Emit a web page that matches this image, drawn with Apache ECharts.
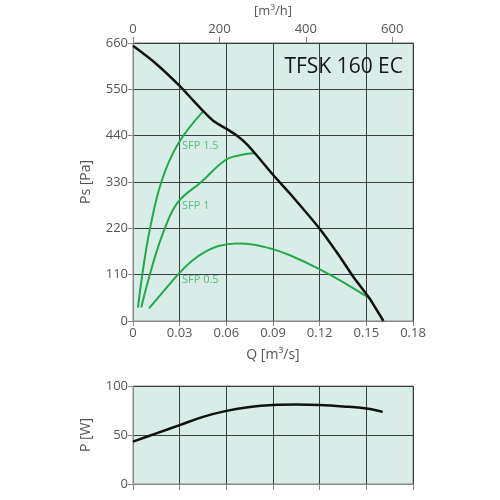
<!DOCTYPE html>
<html lang="en">
<head>
    <meta charset="UTF-8">
    <title>TFSK 160 EC</title>
    <script src="https://cdn.jsdelivr.net/npm/echarts@6/dist/echarts.min.js"></script>
    <style>
        html, body { margin: 0; padding: 0; background: #fff; }
    </style>
</head>
<body>
<div id="main" style="width:500px; height:500px"></div>

<script type="text/javascript">
    // fan curve: Q [m3/s], Ps [Pa]
    var fanCurve = [[0, 653], [0.015, 610], [0.030, 558], [0.0388, 523], [0.0452, 498],
        [0.0527, 472], [0.0602, 456], [0.0667, 440], [0.0731, 420], [0.0784, 398],
        [0.090, 347], [0.101, 302], [0.120, 219], [0.1331, 152], [0.1416, 105],
        [0.152, 54], [0.161, 0]];
    // SFP lines
    var sfp15 = [[0.0032, 32], [0.0064, 121], [0.0107, 215], [0.0182, 330],
        [0.0289, 420], [0.0452, 498]];
    var sfp1 = [[0.0053, 32], [0.0129, 137], [0.0204, 219], [0.0289, 282],
        [0.0439, 330], [0.059, 381], [0.068, 393], [0.0784, 398]];
    var sfp05 = [[0.0103, 30], [0.020, 72], [0.0296, 113], [0.038, 143], [0.0463, 164],
        [0.055, 178], [0.0667, 184], [0.078, 181], [0.0902, 170], [0.1009, 156], [0.1198, 123],
        [0.1374, 87], [0.152, 54]];
    var sfpLabels = [[0.0315, 416, 'SFP 1.5'], [0.0315, 274, 'SFP 1'], [0.0315, 97, 'SFP 0.5']];
    // power: Q [m3/s], P [W]
    var power = [[0, 43.2], [0.015, 51.7], [0.030, 60.1], [0.045, 68.5], [0.060, 74.6],
        [0.075, 78.6], [0.090, 80.7], [0.105, 81.2], [0.120, 80.7], [0.135, 79.2],
        [0.150, 77], [0.1605, 73.6]];

    var chart = echarts.init(document.getElementById('main'));
    var txt = '#555';
    var gridCol = '#3d3d3d';
    var fnt = 'Open Sans';
    var green = '#22a94a';

    var option = {
        animation: false,
        textStyle: { fontFamily: fnt },
        title: {
            text: 'TFSK 160 EC',
            right: 92, top: 52,
            textStyle: { fontSize: 21, fontWeight: 'normal', color: '#15151f', fontFamily: fnt }
        },
        grid: [
            { left: 133, top: 42, width: 280, height: 279, show: true,
              backgroundColor: '#d9ede8', borderColor: '#888', borderWidth: 1 },
            { left: 133, top: 386, width: 280, height: 98, show: true,
              backgroundColor: '#d9ede8', borderColor: '#888', borderWidth: 1 }
        ],
        xAxis: [
            { type: 'value', gridIndex: 0, min: 0, max: 0.18, interval: 0.03,
              name: 'Q [m³/s]', nameLocation: 'middle', nameGap: 27,
              nameTextStyle: { color: txt, fontSize: 14 },
              axisLine: { lineStyle: { color: '#888' } },
              axisTick: { lineStyle: { color: '#888' }, length: 5 },
              axisLabel: { color: txt, fontSize: 13, margin: 6 },
              splitLine: { lineStyle: { color: gridCol, width: 1 } } },
            { type: 'value', gridIndex: 0, position: 'top', min: 0, max: 648, interval: 200,
              name: '[m³/h]', nameLocation: 'middle', nameGap: 23,
              nameTextStyle: { color: txt, fontSize: 13 },
              axisLine: { show: false },
              axisTick: { lineStyle: { color: '#888' }, length: 6 },
              axisLabel: { color: txt, fontSize: 13, margin: 7, showMaxLabel: false },
              splitLine: { show: false } },
            { type: 'value', gridIndex: 1, min: 0, max: 0.18, interval: 0.03,
              axisLine: { lineStyle: { color: '#888' } },
              axisTick: { lineStyle: { color: '#888' }, length: 6 },
              axisLabel: { show: false },
              splitLine: { lineStyle: { color: gridCol, width: 1 } } }
        ],
        yAxis: [
            { type: 'value', gridIndex: 0, min: 0, max: 660, interval: 110,
              name: 'Ps [Pa]', nameLocation: 'middle', nameGap: 40,
              nameTextStyle: { color: txt, fontSize: 14 },
              axisLine: { show: true, lineStyle: { color: '#888' } },
              axisTick: { show: true, lineStyle: { color: '#888' }, length: 5 },
              axisLabel: { color: txt, fontSize: 13, margin: 5 },
              splitLine: { lineStyle: { color: gridCol, width: 1 } } },
            { type: 'value', gridIndex: 1, min: 0, max: 100, interval: 50,
              name: 'P [W]', nameLocation: 'middle', nameGap: 40,
              nameTextStyle: { color: txt, fontSize: 14 },
              axisLine: { show: true, lineStyle: { color: '#888' } },
              axisTick: { show: true, lineStyle: { color: '#888' }, length: 5 },
              axisLabel: { color: txt, fontSize: 13, margin: 5 },
              splitLine: { lineStyle: { color: gridCol, width: 1 } } }
        ],
        series: [
            { type: 'line', xAxisIndex: 0, yAxisIndex: 0, data: sfp15, smooth: 0.4, showSymbol: false,
              lineStyle: { color: green, width: 2 } },
            { type: 'line', xAxisIndex: 0, yAxisIndex: 0, data: sfp1, smooth: 0.4, showSymbol: false,
              lineStyle: { color: green, width: 2 } },
            { type: 'line', xAxisIndex: 0, yAxisIndex: 0, data: sfp05, smooth: 0.4, showSymbol: false,
              lineStyle: { color: green, width: 2 } },
            { type: 'line', xAxisIndex: 0, yAxisIndex: 0, data: fanCurve, smooth: 0.3, showSymbol: false,
              lineStyle: { color: '#111', width: 2.5 } },
            { type: 'scatter', xAxisIndex: 0, yAxisIndex: 0, symbolSize: 0,
              data: sfpLabels.map(function (d) { return { value: [d[0], d[1]], name: d[2] }; }),
              label: { show: true, position: 'right', distance: 0, formatter: '{b}',
                       color: '#3aae5e', fontSize: 11, fontFamily: fnt } },
            { type: 'line', xAxisIndex: 2, yAxisIndex: 1, data: power, smooth: 0.4, showSymbol: false,
              lineStyle: { color: '#111', width: 2.5 } }
        ]
    };

    chart.setOption(option);
</script>
</body>
</html>
